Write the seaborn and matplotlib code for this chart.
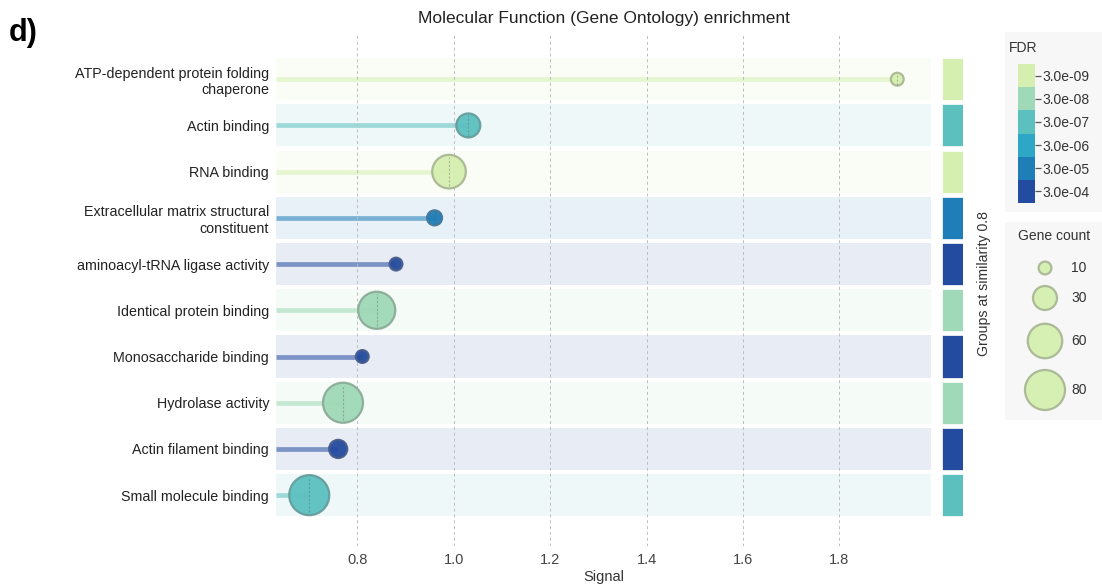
import numpy as np
import pandas as pd
import matplotlib
matplotlib.use("Agg")
import matplotlib.pyplot as plt
import matplotlib.colors as mcolors
from matplotlib.ticker import NullLocator
import seaborn as sns

# ---------------- data ----------------
terms = [
    "ATP-dependent protein folding\nchaperone",
    "Actin binding",
    "RNA binding",
    "Extracellular matrix structural\nconstituent",
    "aminoacyl-tRNA ligase activity",
    "Identical protein binding",
    "Monosaccharide binding",
    "Hydrolase activity",
    "Actin filament binding",
    "Small molecule binding",
]
signal = [1.92, 1.03, 0.99, 0.96, 0.88, 0.84, 0.81, 0.77, 0.76, 0.70]
gene_count = [10, 30, 57, 13, 10, 69, 10, 84, 18, 81]
fdr = ["3.0e-09", "3.0e-07", "3.0e-09", "3.0e-05", "3.0e-04",
       "3.0e-08", "3.0e-04", "3.0e-08", "3.0e-04", "3.0e-07"]

fdr_levels = ["3.0e-09", "3.0e-08", "3.0e-07", "3.0e-06", "3.0e-05", "3.0e-04"]
fdr_colors = ["#d5efb0", "#9fd9b7", "#5cc0bf", "#2ea6c6", "#1f7db8", "#234ba0"]
legend_counts = [10, 30, 60, 80]
x_ticks = [0.8, 1.0, 1.2, 1.4, 1.6, 1.8]

palette = dict(zip(fdr_levels, fdr_colors))
df = pd.DataFrame({"term": terms, "signal": signal, "count": gene_count, "fdr": fdr})
df["pos"] = np.arange(len(df))

SIZE_NORM = (10, 80)
SIZES = (85, 830)

def darken(c, f=0.45):
    r, g, b = mcolors.to_rgb(c)
    return (r * (1 - f) + 0.45 * f, g * (1 - f) + 0.45 * f, b * (1 - f) + 0.45 * f)

# ---------------- figure ----------------
sns.set_theme(style="white")
plt.rcParams["font.family"] = ["Liberation Sans", "DejaVu Sans"]

W, H = 1102, 585
fig = plt.figure(figsize=(W / 100, H / 100), dpi=100)

def px_axes(x0, y0, x1, y1, **kw):
    return fig.add_axes([x0 / W, 1 - y1 / H, (x1 - x0) / W, (y1 - y0) / H], **kw)

# legend background panels (drawn first, behind everything)
for (y0, y1) in [(32, 212), (222, 420)]:
    bg = px_axes(1005, y0, 1102, y1)
    bg.set_facecolor("#f7f7f7")
    bg.set_xticks([])
    bg.set_yticks([])
    for s in bg.spines.values():
        s.set_visible(False)

ax = px_axes(276, 33, 931, 546)
XMIN, XMAX = 0.631, 1.99
ax.set_xlim(XMIN, XMAX)
ax.set_ylim(10.1, -1.0)

# background bands and stems
for _, r in df.iterrows():
    col = palette[r["fdr"]]
    ax.axhspan(r["pos"] - 0.455, r["pos"] + 0.455, color=col, alpha=0.1, lw=0, zorder=0.2)
    ax.hlines(r["pos"], XMIN, r["signal"], color=col, alpha=0.55, lw=3.4, zorder=2)

ax.grid(axis="x", linestyle=(0, (3, 3)), color="#bdbdbd", lw=0.7, zorder=1)
ax.grid(axis="y", visible=False)
ax.set_axisbelow(False)

sns.scatterplot(data=df, x="signal", y="pos", hue="fdr", palette=palette,
                size="count", size_norm=SIZE_NORM, sizes=SIZES,
                legend=False, ax=ax, zorder=3, alpha=0.95, linewidth=1.6)
coll = ax.collections[-1]
fc = coll.get_facecolors()
coll.set_edgecolors([darken(c[:3]) for c in fc])

# dashed center line inside each bubble
sns.scatterplot(data=df, x="signal", y="pos", size="count", size_norm=SIZE_NORM,
                sizes=(SIZES[0] * 0.75, SIZES[1] * 0.75), marker="|", color="#555555",
                alpha=0.35, linewidth=0.8, linestyle=(0, (2, 1.5)),
                legend=False, ax=ax, zorder=4)

for s in ax.spines.values():
    s.set_visible(False)
ax.set_yticks(df["pos"])
ax.set_yticklabels(df["term"], fontsize=10.3, color="#222222", linespacing=1.2)
ax.set_xticks(x_ticks)
ax.set_xticklabels([f"{v:.1f}" for v in x_ticks], fontsize=10.5, color="#444444")
ax.tick_params(axis="y", length=0, pad=5)
ax.tick_params(axis="x", length=0, pad=5)
ax.set_xlabel("Signal", fontsize=10.5, color="#333333", labelpad=2)
ax.set_ylabel("")

fig.text(604 / W, 1 - 18 / H, "Molecular Function (Gene Ontology) enrichment",
         ha="center", va="center", fontsize=12.5, color="#222222")
fig.text(9 / W, 1 - 33 / H, "d)", ha="left", va="center", fontsize=22,
         fontweight="bold", color="black")

# group column
ax2 = px_axes(942, 33, 963, 546)
ax2.barh(df["pos"], 1, height=0.91, color=[palette[f] for f in df["fdr"]],
         edgecolor="white", linewidth=0.5)
ax2.set_xlim(0, 1)
ax2.set_ylim(10.1, -1.0)
ax2.set_xticks([])
ax2.set_yticks([])
for s in ax2.spines.values():
    s.set_visible(False)
fig.text(984 / W, 1 - 283 / H, "Groups at similarity 0.8", rotation=90,
         ha="center", va="center", fontsize=10.2, color="#333333")

# FDR discrete colourbar
cax = px_axes(1018, 64, 1035, 203)
cmap = mcolors.ListedColormap(fdr_colors[::-1])
norm = mcolors.BoundaryNorm(np.arange(len(fdr_levels) + 1), cmap.N)
cb = fig.colorbar(plt.cm.ScalarMappable(norm=norm, cmap=cmap), cax=cax,
                  ticks=np.arange(len(fdr_levels)) + 0.5)
cb.set_ticklabels(fdr_levels[::-1])
cb.outline.set_visible(False)
cax.yaxis.set_minor_locator(NullLocator())
cax.tick_params(which="both", length=4, width=0.9, color="#555555", labelsize=10,
                labelcolor="#333333", pad=1.5)
cax.tick_params(which="minor", length=0)
fig.text(1009 / W, 1 - 48 / H, "FDR", ha="left", va="center", fontsize=10, color="#333333")

# gene count legend
lax = px_axes(1005, 222, 1102, 420)
lax.patch.set_alpha(0)
leg_y = [46, 76, 119, 168]
leg_df = pd.DataFrame({"x": [40] * 4, "y": leg_y, "count": legend_counts})
sns.scatterplot(data=leg_df, x="x", y="y", size="count", size_norm=SIZE_NORM,
                sizes=SIZES, color=fdr_colors[0], edgecolor=darken(fdr_colors[0]),
                linewidth=1.6, alpha=0.95, legend=False, ax=lax)
lax.set_xlim(0, 97)
lax.set_ylim(198, 0)
lax.axis("off")
for yy, c in zip(leg_y, legend_counts):
    lax.text(66, yy, str(c), ha="left", va="center", fontsize=10, color="#333333")
lax.text(49, 14, "Gene count", ha="center", va="center", fontsize=10, color="#333333")

fig.savefig("out.png", dpi=100)
